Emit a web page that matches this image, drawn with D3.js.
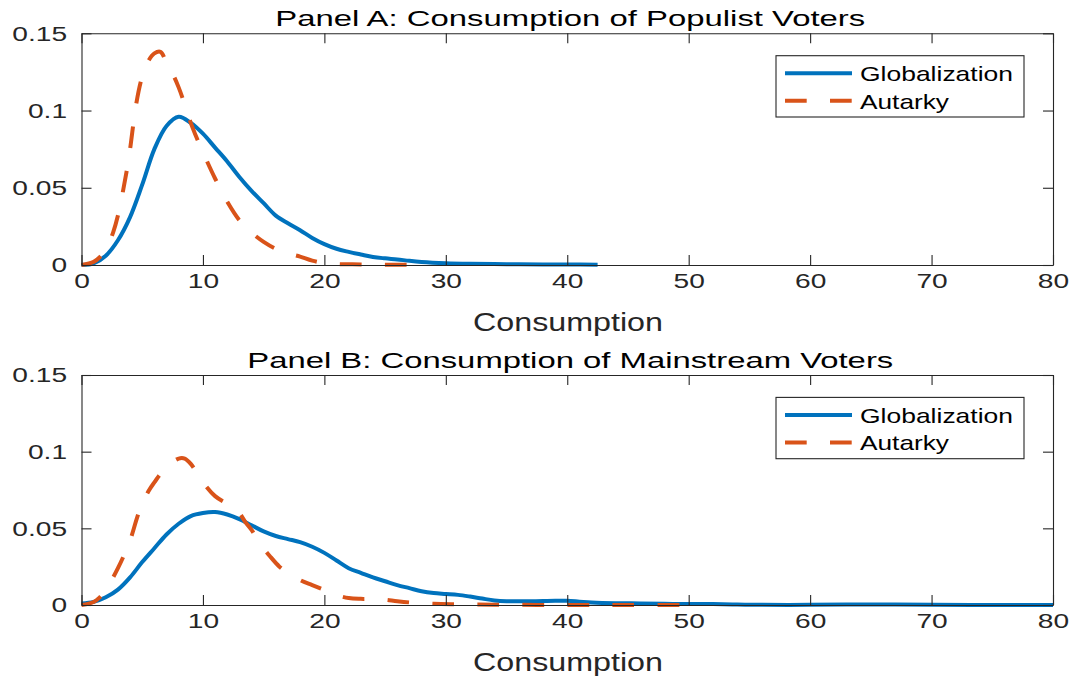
<!DOCTYPE html>
<html>
<head>
<meta charset="utf-8">
<script src="https://cdn.jsdelivr.net/npm/d3@7"></script>
<style>
html,body{margin:0;padding:0;background:#fff;}
svg{display:block;font-family:"Liberation Sans",Arial,Helvetica,sans-serif;}
</style>
</head>
<body>
<svg id="chart" width="1075" height="681"></svg>
<script>
// ---------- data ----------
const xTicks = [0, 10, 20, 30, 40, 50, 60, 70, 80];
const yTicks = [0, 0.05, 0.1, 0.15];
const yTickLabels = ["0", "0.05", "0.1", "0.15"];
const seriesNames = ["Globalization", "Autarky"];
const panelTitles = ["Panel A: Consumption of Populist Voters", "Panel B: Consumption of Mainstream Voters"];
const xLabel = "Consumption";

// Panel A – Globalization
const aGlobX = [0,1,2,3,4,5,6,7,8,9,10,11,12,13,14,15,16,17,18,19,20,21,22,23,24,25,26,27,28,30,32,35,38,40,42.5];
const aGlobY = [0,0.001,0.006,0.016,0.031,0.052,0.075,0.090,0.096,0.092,0.085,0.076,0.067,0.057,0.048,0.040,0.032,0.027,0.0225,0.0175,0.0135,0.0105,0.0085,0.0068,0.0052,0.0043,0.0036,0.0027,0.002,0.0012,0.0008,0.0005,0.0003,0.0004,0.0002];
// Panel A – Autarky
const aAutX = [0,1,1.5,2,2.6,3,3.7,4,4.5,5,5.5,6,6.5,7,7.5,8,8.5,9,9.5,10,11,12,13,14,15,16,17,18,19,20,21,23,25,27];
const aAutY = [0,0.002,0.005,0.010,0.021,0.032,0.060,0.075,0.104,0.122,0.132,0.137,0.138,0.131,0.124,0.115,0.104,0.092,0.082,0.073,0.056,0.041,0.029,0.021,0.015,0.0105,0.0075,0.0054,0.0028,0.0012,0.0006,0.0004,0.0002,0.0001];
// Panel B – Globalization
const bGlobX = [0,1,2,3,4,5,6,7,8,9,10,11,12,13,14,15,16,17,18,19,20,21,22,23,24,25,26,27,28,29,30,31,32,33,34,35,37,39,40,41,42,44,46,48,50,52,54,56,60,63,65,67,70,75,80];
const bGlobY = [0.001,0.002,0.005,0.010,0.018,0.028,0.037,0.046,0.053,0.058,0.060,0.0606,0.059,0.056,0.052,0.048,0.045,0.043,0.041,0.038,0.034,0.029,0.024,0.021,0.018,0.0155,0.013,0.011,0.009,0.0078,0.0072,0.0066,0.0055,0.0042,0.003,0.0025,0.0025,0.0028,0.0027,0.0022,0.0017,0.0012,0.001,0.0008,0.0006,0.0006,0.0003,0.0001,0.0001,0.0003,0.0004,0.0003,0.0001,0,0];
// Panel B – Autarky
const bAutX = [0,1,1.5,2,2.6,3,3.7,4,4.8,5.5,6,7,8,8.5,9,10,11,12,12.8,13.5,14,14.7,15.5,16.3,17,18,19,20,21,22,23,24,25,26,27.3,29,31,34,40,45,50];
const bAutY = [0,0.002,0.005,0.010,0.018,0.024,0.036,0.042,0.062,0.074,0.080,0.090,0.0955,0.0955,0.092,0.080,0.071,0.066,0.062,0.054,0.049,0.040,0.032,0.025,0.021,0.0163,0.013,0.0098,0.0065,0.0045,0.004,0.004,0.0035,0.0025,0.0015,0.0008,0.0005,0.0002,0,0,0];

const panels = [
  {title: panelTitles[0], glob: [aGlobX, aGlobY], aut: [aAutX, aAutY]},
  {title: panelTitles[1], glob: [bGlobX, bGlobY], aut: [bAutX, bAutY]}
];

// ---------- layout ----------
const svg = d3.select("#chart");
const left = 81.5, right = 1053;
const panelTop = [33.3, 375], panelBottom = [265, 605];
const blue = "#0072BD", orange = "#D95319", axisCol = "#262626";
const SX = 1.34; // horizontal text stretch
const tickLen = 10;
const lw = 4;

panels.forEach((p, i) => {
  const top = panelTop[i], bottom = panelBottom[i];
  const x = d3.scaleLinear().domain([0, 80]).range([left, right]);
  const y = d3.scaleLinear().domain([0, 0.15]).range([bottom, top]);
  const g = svg.append("g");

  // curves
  const line = d3.line().x(d => x(d[0])).y(d => Math.min(bottom, y(d[1]))).curve(d3.curveCatmullRom.alpha(0.5));
  const gData = p.glob[0].map((v, k) => [v, p.glob[1][k]]);
  const aData = p.aut[0].map((v, k) => [v, p.aut[1][k]]);
  g.append("path").datum(gData).attr("d", line)
    .attr("fill", "none").attr("stroke", blue).attr("stroke-width", lw)
    .attr("stroke-linejoin", "round");
  g.append("path").datum(aData).attr("d", line)
    .attr("fill", "none").attr("stroke", orange).attr("stroke-width", lw)
    .attr("stroke-dasharray", "21.7,23.3").attr("stroke-linejoin", "round");

  // axes
  const xb = g.append("g").attr("transform", `translate(0,${bottom})`)
    .call(d3.axisBottom(x).tickValues(xTicks).tickFormat(d3.format("d"))
      .tickSizeInner(-tickLen).tickSizeOuter(0).tickPadding(8));
  xb.selectAll("text").attr("font-size", 21).attr("fill", axisCol)
    .attr("font-family", "Liberation Sans, Arial, sans-serif")
    .attr("transform", `scale(${SX},1)`);
  const xt = g.append("g").attr("transform", `translate(0,${top})`)
    .call(d3.axisTop(x).tickValues(xTicks).tickFormat("").tickSizeInner(-tickLen).tickSizeOuter(0));
  const yl = g.append("g").attr("transform", `translate(${left},0)`)
    .call(d3.axisLeft(y).tickValues(yTicks).tickFormat((d, k) => yTickLabels[k])
      .tickSizeInner(-tickLen).tickSizeOuter(0).tickPadding(10.8));
  yl.selectAll("text").attr("font-size", 21).attr("fill", axisCol)
    .attr("font-family", "Liberation Sans, Arial, sans-serif")
    .attr("transform", `scale(${SX},1)`);
  const yr = g.append("g").attr("transform", `translate(${right},0)`)
    .call(d3.axisRight(y).tickValues(yTicks).tickFormat("").tickSizeInner(-tickLen).tickSizeOuter(0));
  [xb, xt, yl, yr].forEach(a => {
    a.selectAll("path.domain").attr("stroke", axisCol).attr("stroke-width", 1.1);
    a.selectAll(".tick line").attr("stroke", axisCol).attr("stroke-width", 1.1);
  });

  // title
  g.append("text").text(p.title)
    .attr("x", (left + right) / 2 + 3).attr("y", top - 7.5)
    .attr("text-anchor", "middle").attr("font-size", 22).attr("fill", "#000")
    .attr("textLength", i === 0 ? 590 : 646).attr("lengthAdjust", "spacingAndGlyphs");

  // x label
  g.append("text").text(xLabel)
    .attr("x", 568).attr("y", bottom + 66)
    .attr("text-anchor", "middle").attr("font-size", 25).attr("fill", axisCol)
    .attr("textLength", 190).attr("lengthAdjust", "spacingAndGlyphs");

  // legend
  const off = top - panelTop[0];
  const lg = g.append("g").attr("transform", `translate(0,${off})`);
  lg.append("rect").attr("x", 776).attr("y", 55.7).attr("width", 248).attr("height", 61.3)
    .attr("fill", "#fff").attr("stroke", axisCol).attr("stroke-width", 1.1);
  const items = [
    {name: seriesNames[0], color: blue, dash: null, yy: 73.3, w: 153},
    {name: seriesNames[1], color: orange, dash: "21.7,23.3", yy: 100.7, w: 89}
  ];
  items.forEach(it => {
    lg.append("line").attr("x1", 785).attr("x2", 852).attr("y1", it.yy).attr("y2", it.yy)
      .attr("stroke", it.color).attr("stroke-width", lw).attr("stroke-dasharray", it.dash);
    lg.append("text").text(it.name).attr("x", 860).attr("y", it.yy + 8)
      .attr("font-size", 21).attr("fill", "#000")
      .attr("textLength", it.w).attr("lengthAdjust", "spacingAndGlyphs");
  });
});
</script>
</body>
</html>
